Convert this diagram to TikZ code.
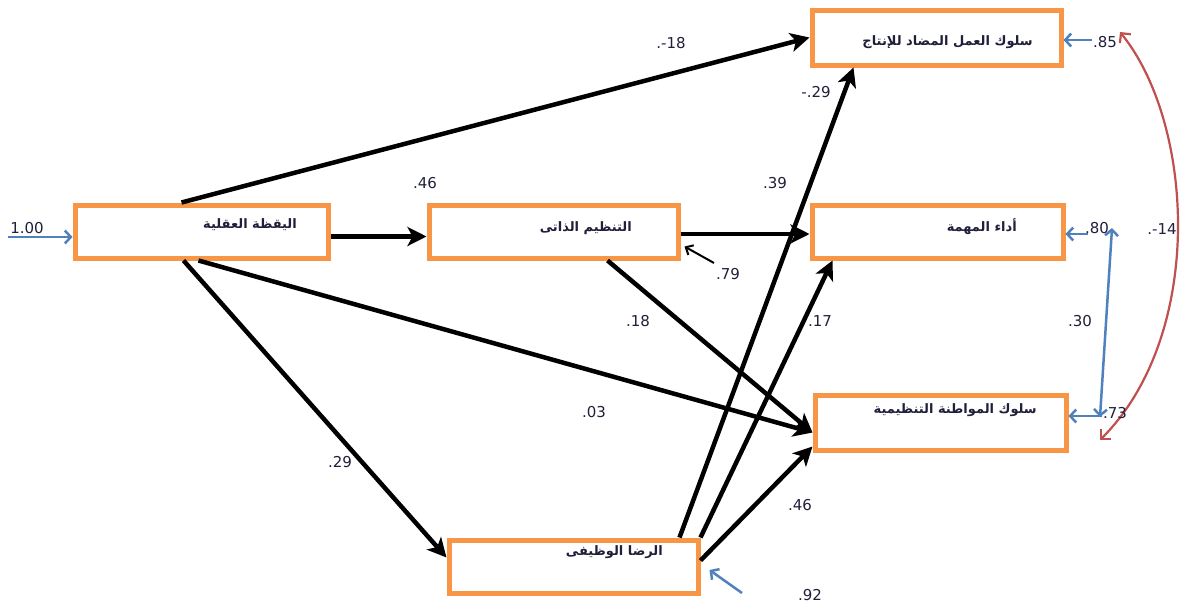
\documentclass[tikz,border=0pt]{standalone}
\usepackage{fontspec}
\setmainfont{DejaVu Sans}
\newfontfamily\arabicfont[Script=Arabic]{DejaVu Sans}
\TeXXeTstate=1
\usetikzlibrary{arrows.meta,calc}
\definecolor{boxor}{HTML}{F79646}
\definecolor{errblue}{HTML}{4F81BD}
\definecolor{corred}{HTML}{C0504D}
\definecolor{lab}{HTML}{1F1F3A}
\tikzset{
  varbox/.style={draw=boxor, line width=5pt, inner sep=0pt, fill=white},
  atext/.style={font=\arabicfont\bfseries\fontsize{13}{15}\selectfont, anchor=east, inner sep=0pt, text=lab},
  num/.style={font=\fontsize{15}{17}\selectfont, text=lab, inner sep=0pt},
  pathar/.style={draw=black, line width=4.5pt, -{Stealth[length=19pt,width=19pt,inset=5pt]}},
  errarrow/.style={draw=errblue, line width=2.5pt, -{Straight Barb[length=6pt,width=13pt]}},
  thinar/.style={draw=black, line width=2pt, -{Straight Barb[length=6pt,width=11pt]}},
  corrblue/.style={draw=errblue, line width=2.5pt, {Straight Barb[length=6pt,width=13pt]}-{Straight Barb[length=6pt,width=13pt]}},
  corrred/.style={draw=corred, line width=2.2pt, {Straight Barb[length=7pt,width=14pt]}-{Straight Barb[length=7pt,width=14pt]}}
}
\begin{document}
\begin{tikzpicture}[x=1pt,y=-1pt]
\useasboundingbox (0,0) rectangle (1184,603);
% boxes
\node[varbox, minimum width=253pt, minimum height=53pt] (B1) at (201.5,231.5) {};
\node[varbox, minimum width=249pt, minimum height=53pt] (B2) at (553.5,231.5) {};
\node[varbox, minimum width=249pt, minimum height=55pt] (B3) at (936.5,37.5) {};
\node[varbox, minimum width=251pt, minimum height=53pt] (B4) at (937.5,231.5) {};
\node[varbox, minimum width=251pt, minimum height=55pt] (B5) at (940.5,422.5) {};
\node[varbox, minimum width=249pt, minimum height=53pt] (B6) at (573.5,566.5) {};
% box texts
\node[atext] (T1) at (297,225) {\beginR اليقظة العقلية\endR};
\node[atext] (T2) at (632,228) {\beginR التنظيم الذاتى\endR};
\node[atext] (T3) at (1033,42) {\beginR سلوك العمل المضاد للإنتاج\endR};
\node[atext] (T4) at (1017,227) {\beginR أداء المهمة\endR};
\node[atext] (T5) at (1037,410) {\beginR سلوك المواطنة التنظيمية\endR};
\node[atext] (T6) at (663,552) {\beginR الرضا الوظيفى\endR};
% structural paths
\draw[pathar] ([xshift=-20pt]B1.north) -- (B3.west);
\draw[pathar] ([yshift=-5pt]B1.east) -- ([yshift=-5pt]B2.west);
\draw[pathar] ([yshift=-2.5pt]B2.east) -- ([yshift=-2.5pt]B4.west);
\draw[pathar] ([xshift=-3pt]B1.south) -- ([yshift=-10pt]B5.west);
\draw[pathar] ([xshift=-18pt]B1.south) -- ([yshift=9pt]B6.west);
\draw[pathar] ([xshift=54pt]B2.south) -- ([yshift=-10pt]B5.west);
\draw[pathar] ([xshift=106pt]B6.north) -- ([xshift=-83pt]B3.south);
\draw[pathar] (B6.north east) -- ([xshift=-105pt]B4.south);
\draw[pathar] ([yshift=6pt]B6.east) -- ([yshift=-24pt]B5.west);
% error terms
\coordinate (e1) at (8,237);
\coordinate (e3) at (1092,40);
\coordinate (e4) at (1088,234);
\coordinate (e5) at (1102,416);
\coordinate (e6) at (742,593);
\coordinate (e2) at (714,263);
\draw[errarrow] (e1) -- (e1 -| B1.west);
\draw[errarrow] (e3) -- (e3 -| B3.east);
\draw[errarrow] (e4) -- (e4 -| B4.east);
\draw[errarrow] (e5) -- (e5 -| B5.east);
\draw[errarrow] (e6) -- ([shift={(9pt,-3.5pt)}]B6.east);
\draw[thinar] (e2) -- ([shift={(4pt,-15pt)}]B2.east);
% correlations
\coordinate (c4) at (1112,228);
\coordinate (c5) at (1100,417);
\draw[corrblue] (c4) -- (c5);
\coordinate (r3) at (1120,32);
\coordinate (r5) at (1100,440);
\draw[corrred] (r3) .. controls (1195,125) and (1205,335) .. (r5);
% labels
\node[num] (L1) at (671,43) {.-18};
\node[num] (L2) at (816,92) {-.29};
\node[num] (L3) at (425,183) {.46};
\node[num] (L4) at (775,183) {.39};
\node[num] (L5) at (728,274) {.79};
\node[num] (L6) at (638,321) {.18};
\node[num] (L7) at (820,321) {.17};
\node[num] (L8) at (594,412) {.03};
\node[num] (L9) at (340,462) {.29};
\node[num] (L10) at (800,505) {.46};
\node[num] (L11) at (810,595) {.92};
\node[num] (L12) at (27,228) {1.00};
\node[num] (L13) at (1105,42) {.85};
\node[num] (L14) at (1097,228) {.80};
\node[num] (L15) at (1162,229) {.-14};
\node[num] (L16) at (1080,321) {.30};
\node[num] (L17) at (1115,413) {.73};
\end{tikzpicture}
\end{document}
